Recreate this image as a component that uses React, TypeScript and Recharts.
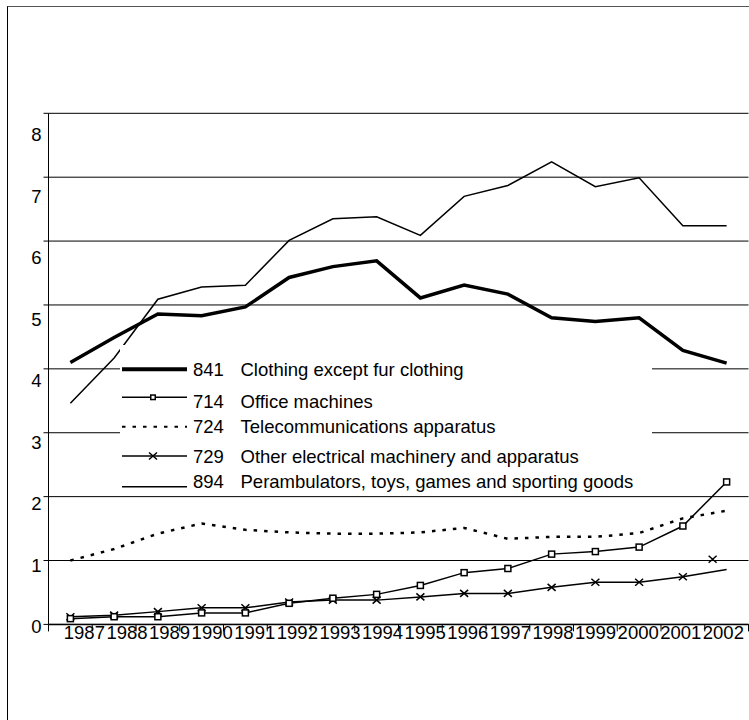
import React from "react";
import { LineChart, Line, XAxis, YAxis, CartesianGrid, Legend } from "recharts";

// years on the category axis
const years = [
  "1987", "1988", "1989", "1990", "1991", "1992", "1993", "1994",
  "1995", "1996", "1997", "1998", "1999", "2000", "2001", "2002",
];

// 841 Clothing except fur clothing
const clothing841 = [4.1, 4.49, 4.86, 4.83, 4.97, 5.43, 5.6, 5.69, 5.11, 5.31, 5.17, 4.8, 4.74, 4.8, 4.29, 4.09];
// 714 Office machines
const office714 = [0.09, 0.12, 0.12, 0.18, 0.18, 0.33, 0.41, 0.47, 0.61, 0.81, 0.875, 1.1, 1.14, 1.21, 1.54, 2.23];
// 724 Telecommunications apparatus
const telecom724 = [1.0, 1.18, 1.42, 1.58, 1.48, 1.44, 1.42, 1.42, 1.44, 1.51, 1.34, 1.37, 1.37, 1.43, 1.66, 1.78];
// 729 Other electrical machinery and apparatus
const electrical729 = [0.12, 0.145, 0.2, 0.26, 0.26, 0.35, 0.38, 0.38, 0.43, 0.485, 0.485, 0.58, 0.66, 0.66, 0.745, 0.86];
// 894 Perambulators, toys, games and sporting goods
const toys894 = [3.46, 4.17, 5.09, 5.28, 5.31, 6.01, 6.35, 6.38, 6.09, 6.7, 6.87, 7.24, 6.85, 6.99, 6.24, 6.24];
// the lone 729 marker drawn off the line in 2002
const stray729 = { year: "2002", value: 1.02 };

const yTicks = [0, 1, 2, 3, 4, 5, 6, 7, 8];

const legendCodes = ["841", "714", "724", "729", "894"];
const legendLabels = [
  "Clothing except fur clothing",
  "Office machines",
  "Telecommunications apparatus",
  "Other electrical machinery and apparatus",
  "Perambulators, toys, games and sporting goods",
];

const data = years.map((year, i) => ({
  year,
  s841: clothing841[i],
  s714: office714[i],
  s724: telecom724[i],
  s729: electrical729[i],
  s894: toys894[i],
  m729: year === stray729.year ? stray729.value : null,
}));

const FONT = "'Liberation Sans', Arial, sans-serif";
const FS = 18.5;
const BAND = 43.75;

function YearTick(props: any) {
  const { x, y, payload, index } = props;
  const lx = x + 14 - 1.15 * index;
  return (
    <g>
      {index === 0 && (
        <line x1={x - BAND / 2} x2={x - BAND / 2} y1={y - 7} y2={y} stroke="#000" />
      )}
      <line x1={x + BAND / 2} x2={x + BAND / 2} y1={y - 7} y2={y} stroke="#000" />
      <text x={lx} y={y + 8} textAnchor="middle" fill="#000" fontFamily={FONT} fontSize={FS}>
        {payload.value}
      </text>
    </g>
  );
}

function ValueTick(props: any) {
  const { x, y, payload } = props;
  const v = payload.value;
  return (
    <text x={x} y={y + 2 + 2.4 * v + 6.6} textAnchor="end" fill="#000" fontFamily={FONT} fontSize={FS}>
      {v}
    </text>
  );
}

const square = (cx: number, cy: number, s: number, key?: any) => (
  <rect key={key} x={cx - s / 2} y={cy - s / 2} width={s} height={s} fill="#fff" stroke="#000" strokeWidth={1.5} />
);

const cross = (cx: number, cy: number, w: number, h: number, key?: any) => (
  <path
    key={key}
    d={`M${cx - w / 2},${cy - h / 2}L${cx + w / 2},${cy + h / 2}M${cx - w / 2},${cy + h / 2}L${cx + w / 2},${cy - h / 2}`}
    stroke="#000"
    strokeWidth={1.5}
    fill="none"
  />
);

// row positions inside the legend box
const rowText = [31.3, 63.3, 87.7, 118.3, 143.3];
const rowLine = [24.3, 52.3, 81.7, 111, 141.7];

function LegendBox() {
  return (
    <svg width={532} height={149} style={{ overflow: "visible", display: "block" }}>
      {legendCodes.map((code, i) => {
        const ly = rowLine[i];
        let sample: React.ReactNode;
        if (code === "841") {
          sample = <line x1={2} x2={67} y1={ly} y2={ly} stroke="#000" strokeWidth={4} />;
        } else if (code === "714") {
          sample = (
            <g>
              <line x1={2} x2={67} y1={ly} y2={ly} stroke="#000" strokeWidth={1.5} />
              {square(33, ly, 4.5)}
            </g>
          );
        } else if (code === "724") {
          sample = <line x1={2} x2={67} y1={ly} y2={ly} stroke="#000" strokeWidth={2} strokeDasharray="3.5 7" />;
        } else if (code === "729") {
          sample = (
            <g>
              <line x1={2} x2={67} y1={ly} y2={ly} stroke="#000" strokeWidth={1.5} />
              {cross(33, ly, 8, 7)}
            </g>
          );
        } else {
          sample = <line x1={2} x2={67} y1={ly} y2={ly} stroke="#000" strokeWidth={1.5} />;
        }
        return (
          <g key={code}>
            {sample}
            <text x={73} y={rowText[i]} fill="#000" fontFamily={FONT} fontSize={FS}>
              {code}
            </text>
            <text x={120.5} y={rowText[i]} fill="#000" fontFamily={FONT} fontSize={FS}>
              {legendLabels[i]}
            </text>
          </g>
        );
      })}
    </svg>
  );
}

export default function App() {
  return (
    <div
      style={{
        position: "absolute",
        left: 7,
        top: 6,
        width: 741,
        height: 713,
        borderTop: "1px solid #555",
        borderLeft: "1px solid #000",
        overflow: "hidden",
        background: "#fff",
      }}
    >
      <LineChart
        width={742}
        height={713}
        data={data}
        margin={{ top: 106.3, right: 1.5, left: 10.5, bottom: 65.6 }}
      >
        <CartesianGrid vertical={false} stroke="#000" strokeWidth={1} />
        <XAxis
          dataKey="year"
          interval={0}
          padding={{ left: BAND / 2, right: BAND / 2 }}
          height={30}
          tickSize={7}
          tickMargin={0}
          tickLine={false}
          axisLine={{ stroke: "#000", strokeWidth: 1.5 }}
          tick={YearTick}
        />
        <YAxis
          domain={[0, 8]}
          ticks={yTicks}
          width={30}
          tickSize={5}
          tickMargin={2}
          axisLine={{ stroke: "#000" }}
          tickLine={{ stroke: "#000" }}
          tick={ValueTick}
        />
        <Legend
          layout="horizontal"
          verticalAlign="middle"
          align="center"
          content={() => <LegendBox />}
          wrapperStyle={{ left: 112, top: 338, width: 532, height: 149, background: "#fff" }}
        />
        <Line
          dataKey="s724"
          type="linear"
          stroke="#000"
          strokeWidth={2.5}
          strokeDasharray="3.5 7"
          dot={false}
          activeDot={false}
          isAnimationActive={false}
        />
        <Line
          dataKey="s729"
          type="linear"
          stroke="#000"
          strokeWidth={1.5}
          dot={(p: any) =>
            p.index === years.length - 1 ? <g key={p.index} /> : cross(p.cx, p.cy, 8, 7, p.index)
          }
          activeDot={false}
          isAnimationActive={false}
        />
        <Line
          dataKey="m729"
          type="linear"
          stroke="none"
          legendType="none"
          dot={(p: any) =>
            p.cy == null || p.value == null ? <g key={p.index} /> : cross(p.cx - 14, p.cy, 8, 7, p.index)
          }
          activeDot={false}
          isAnimationActive={false}
        />
        <Line
          dataKey="s714"
          type="linear"
          stroke="#000"
          strokeWidth={1.5}
          dot={(p: any) => square(p.cx, p.cy, 6, p.index)}
          activeDot={false}
          isAnimationActive={false}
        />
        <Line
          dataKey="s894"
          type="linear"
          stroke="#000"
          strokeWidth={1.5}
          dot={false}
          activeDot={false}
          isAnimationActive={false}
        />
        <Line
          dataKey="s841"
          type="linear"
          stroke="#000"
          strokeWidth={3.5}
          dot={false}
          activeDot={false}
          isAnimationActive={false}
        />
      </LineChart>
    </div>
  );
}
